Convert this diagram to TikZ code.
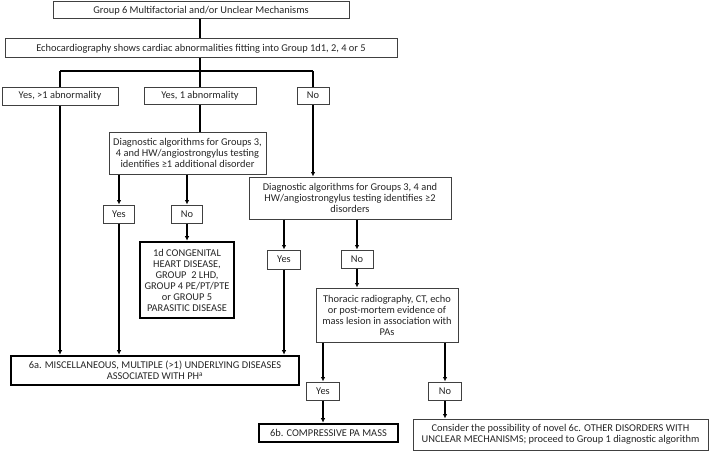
\documentclass[tikz,border=0pt]{standalone}
\usepackage{fontspec}
\setmainfont{Carlito}
\usetikzlibrary{arrows.meta}
\begin{document}
\begin{tikzpicture}[x=1pt,y=-1pt,
  box/.style={draw=black!75,line width=1pt,fill=white,inner sep=0pt,align=center,
    font=\fontsize{10.4}{11}\selectfont,text=black!85},
  thick box/.style={box,draw=black,line width=2.6pt},
  conn/.style={line width=2pt,black},
  arr/.style={conn,-{Latex[length=4.5pt,width=4.5pt]}}]
\useasboundingbox (0,0) rectangle (709,452);
% nodes
\node[box,minimum width=296pt,minimum height=17pt] (g6) at (201,10.5) {Group 6 Multifactorial and/or Unclear Mechanisms};
\node[box,minimum width=392pt,minimum height=19pt] (echo) at (201,48.5) {Echocardiography shows cardiac abnormalities fitting into Group 1d1, 2, 4 or 5};
\node[box,minimum width=116pt,minimum height=18pt] (y1) at (60,96) {Yes, {>}1 abnormality};
\node[box,minimum width=112pt,minimum height=17pt] (y2) at (200,95.5) {Yes, 1 abnormality};
\node[box,minimum width=32pt,minimum height=17pt] (n1) at (313,95.5) {No};
\node[box,minimum width=157pt,minimum height=42pt] (d1) at (187.5,153) {Diagnostic algorithms for Groups 3,\\4 and HW/angiostrongylus testing\\identifies ≥1 additional disorder};
\node[box,minimum width=31pt,minimum height=18pt] (d1y) at (119,214) {Yes};
\node[box,minimum width=31pt,minimum height=18pt] (d1n) at (187,214) {No};
\node[thick box,minimum width=94pt,minimum height=76pt] (cd) at (187,280) {1d CONGENITAL\\HEART DISEASE,\\GROUP\ \ 2 LHD,\\GROUP 4 PE/PT/PTE\\or GROUP 5\\PARASITIC DISEASE};
\node[box,minimum width=202pt,minimum height=42pt] (d2) at (350,198) {Diagnostic algorithms for Groups 3, 4 and\\HW/angiostrongylus testing identifies ≥2\\disorders};
\node[box,minimum width=33pt,minimum height=19pt] (d2y) at (284,259.5) {Yes};
\node[box,minimum width=32pt,minimum height=18pt] (d2n) at (357,259) {No};
\node[box,minimum width=142pt,minimum height=54pt] (th) at (387,315) {Thoracic radiography, CT, echo\\or post-mortem evidence of\\mass lesion in association with\\PAs};
\node[box,minimum width=33pt,minimum height=18pt] (ty) at (323,391) {Yes};
\node[box,minimum width=33pt,minimum height=18pt] (tn) at (445,391) {No};
\node[thick box,minimum width=288pt,minimum height=29pt] (m6a) at (155,370.5) {6a. MISCELLANEOUS, MULTIPLE ({>}1) UNDERLYING DISEASES\\ASSOCIATED WITH PH\textsuperscript{a}};
\node[thick box,minimum width=139pt,minimum height=18pt] (m6b) at (328.5,433) {6b. COMPRESSIVE PA MASS};
\node[box,minimum width=295pt,minimum height=31pt] (cons) at (560.5,434.5) {Consider the possibility of novel 6c. OTHER DISORDERS WITH\\UNCLEAR MECHANISMS; proceed to Group 1 diagnostic algorithm};
% connectors
\coordinate (bar) at (200,71);
\draw[conn] (g6.south -| bar) -- (echo.north -| bar);
\draw[conn] (echo.south -| bar) -- (bar);
\draw[conn] (y1.north |- bar) -- (n1.north |- bar);
\draw[conn] (y1.north |- bar) -- (y1.north);
\draw[conn] (bar) -- (y2.north -| bar);
\draw[conn] (n1.north |- bar) -- (n1.north);
\draw[conn] (y2.south -| bar) -- (d1.north -| bar);
\draw[arr] (y1.south) -- (y1.south |- m6a.north);
\draw[arr] (d1.south -| d1y) -- (d1y.north);
\draw[arr] (d1.south -| d1n) -- (d1n.north);
\draw[arr] (d1y.south) -- (d1y.south |- m6a.north);
\draw[arr] (d1n.south) -- (d1n.south |- cd.north);
\draw[arr] (n1.south) -- (n1.south |- d2.north);
\draw[arr] (d2.south -| d2y) -- (d2y.north);
\draw[arr] (d2.south -| d2n) -- (d2n.north);
\draw[arr] (d2y.south) -- (d2y.south |- m6a.north);
\draw[arr] (d2n.south) -- (d2n.south |- th.north);
\draw[arr] (th.south -| ty) -- (ty.north);
\draw[arr] (th.south -| tn) -- (tn.north);
\draw[arr] (ty.south) -- (ty.south |- m6b.north);
\draw[arr] (tn.south) -- (tn.south |- cons.north);
\end{tikzpicture}
\end{document}
